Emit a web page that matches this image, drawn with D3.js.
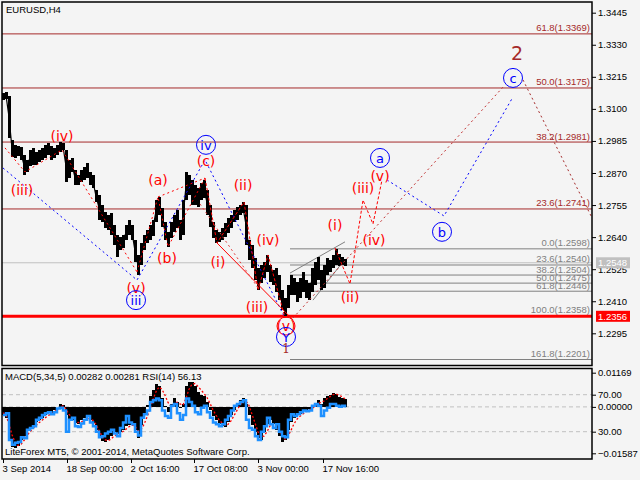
<!DOCTYPE html>
<html><head><meta charset="utf-8">
<script src="https://cdn.jsdelivr.net/npm/d3@7"></script>
<style>body{margin:0;background:#f4f4f4;overflow:hidden}</style>
</head><body><svg id="c" width="640" height="480"></svg>
<script>
// ---------- DATA ----------
const barStep = 3; // H4 bars per sampled slot
const priceHigh = [
1.3157,1.3161,1.3146,1.2988,1.2971,1.2967,1.2964,1.2935,1.2917,1.2953,
1.2960,1.2945,1.2953,1.2960,1.2971,1.2978,1.2967,1.2960,1.2971,1.2981,
1.2978,1.2953,1.2917,1.2924,1.2881,1.2863,1.2881,1.2892,1.2906,1.2874,
1.2863,1.2809,1.2791,1.2755,1.2730,1.2719,1.2727,1.2684,1.2648,1.2641,
1.2648,1.2684,1.2701,1.2684,1.2630,1.2576,1.2619,1.2648,1.2666,1.2684,
1.2701,1.2773,1.2784,1.2745,1.2694,1.2659,1.2694,1.2719,1.2737,1.2701,
1.2773,1.2874,1.2863,1.2845,1.2827,1.2816,1.2834,1.2845,1.2809,1.2755,
1.2694,1.2666,1.2659,1.2673,1.2691,1.2709,1.2719,1.2737,1.2748,1.2755,
1.2766,1.2755,1.2630,1.2612,1.2565,1.2529,1.2540,1.2551,1.2576,1.2540,
1.2522,1.2529,1.2504,1.2450,1.2422,1.2468,1.2504,1.2494,1.2479,1.2494,
1.2515,1.2486,1.2476,1.2529,1.2551,1.2569,1.2522,1.2540,1.2565,1.2558,
1.2576,1.2597,1.2580,1.2569,1.2562];
const priceLow = [
1.3132,1.3136,1.2996,1.2927,1.2924,1.2931,1.2917,1.2863,1.2874,1.2895,
1.2899,1.2899,1.2910,1.2917,1.2924,1.2935,1.2917,1.2924,1.2935,1.2945,
1.2953,1.2838,1.2852,1.2874,1.2827,1.2827,1.2838,1.2845,1.2852,1.2827,
1.2816,1.2766,1.2701,1.2694,1.2673,1.2666,1.2648,1.2612,1.2569,1.2594,
1.2601,1.2630,1.2648,1.2630,1.2551,1.2504,1.2540,1.2594,1.2619,1.2630,
1.2644,1.2694,1.2719,1.2676,1.2630,1.2605,1.2637,1.2659,1.2673,1.2630,
1.2648,1.2773,1.2791,1.2755,1.2755,1.2748,1.2773,1.2780,1.2719,1.2676,
1.2637,1.2619,1.2623,1.2630,1.2641,1.2655,1.2673,1.2694,1.2701,1.2719,
1.2727,1.2612,1.2558,1.2529,1.2486,1.2450,1.2476,1.2494,1.2515,1.2479,
1.2468,1.2443,1.2414,1.2379,1.2357,1.2386,1.2432,1.2432,1.2407,1.2422,
1.2443,1.2422,1.2414,1.2443,1.2468,1.2486,1.2450,1.2458,1.2504,1.2515,
1.2529,1.2540,1.2537,1.2540,1.2537];
const macdHist = [
-0.0028,-0.0038,-0.0113,-0.0138,-0.0141,-0.0134,-0.0113,-0.0100,-0.0079,-0.0072,
-0.0062,-0.0052,-0.0045,-0.0038,-0.0028,-0.0021,-0.0021,-0.0010,0.0000,0.0010,
0.0007,-0.0028,-0.0045,-0.0045,-0.0055,-0.0058,-0.0045,-0.0038,-0.0031,-0.0045,
-0.0055,-0.0079,-0.0107,-0.0117,-0.0120,-0.0113,-0.0100,-0.0086,-0.0093,-0.0086,
-0.0079,-0.0065,-0.0062,-0.0058,-0.0079,-0.0107,-0.0062,-0.0028,0.0007,0.0038,
0.0058,0.0079,0.0072,0.0031,0.0003,-0.0017,0.0010,0.0031,0.0017,-0.0003,
0.0010,0.0072,0.0086,0.0086,0.0072,0.0052,0.0041,0.0038,0.0017,-0.0010,
-0.0031,-0.0045,-0.0058,-0.0065,-0.0069,-0.0052,-0.0028,-0.0010,0.0007,0.0024,
0.0031,0.0010,-0.0028,-0.0062,-0.0086,-0.0107,-0.0113,-0.0086,-0.0058,-0.0045,
-0.0058,-0.0079,-0.0100,-0.0120,-0.0113,-0.0079,-0.0052,-0.0038,-0.0028,-0.0024,
-0.0014,-0.0010,-0.0007,0.0003,0.0014,0.0024,0.0010,0.0031,0.0038,0.0041,
0.0048,0.0045,0.0034,0.0031,0.0028];
const macdSignal = [
-0.0020,-0.0028,-0.0060,-0.0095,-0.0120,-0.0132,-0.0128,-0.0115,-0.0098,-0.0085,
-0.0074,-0.0064,-0.0054,-0.0046,-0.0038,-0.0030,-0.0025,-0.0018,-0.0010,-0.0002,
0.0004,-0.0008,-0.0025,-0.0038,-0.0048,-0.0054,-0.0052,-0.0046,-0.0040,-0.0040,
-0.0046,-0.0060,-0.0080,-0.0100,-0.0112,-0.0116,-0.0110,-0.0100,-0.0094,-0.0090,
-0.0084,-0.0076,-0.0068,-0.0062,-0.0066,-0.0082,-0.0078,-0.0060,-0.0035,-0.0008,
0.0025,0.0052,0.0068,0.0060,0.0040,0.0015,0.0002,0.0008,0.0016,0.0010,
0.0006,0.0030,0.0060,0.0078,0.0080,0.0070,0.0058,0.0046,0.0032,0.0012,
-0.0010,-0.0028,-0.0044,-0.0055,-0.0062,-0.0060,-0.0048,-0.0030,-0.0012,0.0006,
0.0020,0.0020,0.0005,-0.0025,-0.0055,-0.0085,-0.0102,-0.0100,-0.0085,-0.0065,
-0.0058,-0.0062,-0.0080,-0.0100,-0.0110,-0.0100,-0.0080,-0.0058,-0.0042,-0.0032,
-0.0024,-0.0016,-0.0012,-0.0006,0.0002,0.0012,0.0016,0.0020,0.0028,0.0035,
0.0042,0.0044,0.0040,0.0035,0.0028];
const rsi = [
48,50,21,16,18,19,24,23,32,34,
36,43,45,48,50,51,49,51,55,56,
53,30,43,45,36,35,39,43,47,40,
36,30,24,25,28,30,32,28,25,34,
40,47,40,38,30,26,45,49,53,62,
64,66,64,53,47,45,58,60,50,43,
48,66,62,58,51,49,56,58,51,45,
40,38,36,38,43,47,53,58,60,62,
64,43,34,32,25,21,30,36,45,38,
34,38,30,25,24,43,49,47,49,51,
53,52,53,58,60,58,47,53,56,60,
60,58,57,58,56.13];

const priceTicks = [1.3445,1.3330,1.3215,1.3100,1.2985,1.2870,1.2755,1.2640,1.2525,1.2410,1.2295];
const macdTicks = [0.01169,0,-0.01587];
const rsiTicks = [70,30];
const timeTickBars = [0,64,128,191,255,320];
const timeLabels = ["3 Sep 2014","18 Sep 00:00","2 Oct 16:00","17 Oct 08:00","3 Nov 00:00","17 Nov 16:00"];

const fibMajor = [["61.8",1.3369],["50.0",1.3175],["38.2",1.2981],["23.6",1.2741]];
const fibMinor = [["0.0",1.2598],["23.6",1.2540],["38.2",1.2504],["50.0",1.2475],["61.8",1.2446],["100.0",1.2358],["161.8",1.2201]];
const fibMinorStartBar = 287;
const lastPrice = 1.2548;
const supportPrice = 1.2356;

// wave paths: [bar, price]
const blueWave = [[0,1.2888],[134,1.2486],[202,1.2917],[282,1.2350]];
const blueFuture = [[384,1.2845],[441,1.2716],[510,1.3143]];
const redWave1 = [[2,1.2960],[22,1.2874],[59,1.2953],[134,1.2515]];
const redWave2 = [[134,1.2515],[155,1.2784],[165,1.2605],[202,1.2852]];
const redAC = [[155,1.2784],[202,1.2852]];
const redWave3 = [[202,1.2852],[214,1.2619],[241,1.2766],[255,1.2450],[265,1.2576],[282,1.2350]];
const redChannelSolid = [[214,1.2619],[290,1.2343]];
const redChannelDash = [[197,1.2759],[255,1.2458]];
const redFuture = [[332,1.2601],[347,1.2472],[360,1.2773],[370,1.2687],[379,1.2845]];
const longLine = [[290,1.2350],[502,1.3186]];
const downLine = [[520,1.3204],[589,1.2709]];
const channelUpper = [[287,1.2511],[342,1.2623]];
const channelLower = [[310,1.2414],[342,1.2561]];

const redLabels = [["(iii)",19,1.2809],["(iv)",59,1.3003],["(v)",133,1.2458],["(a)",155,1.2845],["(b)",164,1.2565],
  ["(c)",203,1.2913],["(i)",215,1.2551],["(ii)",240,1.2827],["(iii)",254,1.2389],["(iv)",265,1.2630],["(v)",283,1.2321],
  ["(i)",332,1.2684],["(ii)",347,1.2425],["(iii)",360,1.2816],["(iv)",371,1.2630],["(v)",377,1.2859]];
const blueLabels = [["iii",133,1.2414],["iv",203,1.2971],["Y",283,1.2282],["a",377,1.2924],["b",439,1.2659],["c",510,1.3211]];
const brownLabels = [["2",514,1.3301,19],["1",283,1.2237,12]];

// ---------- LAYOUT ----------
const L=2, R=592, T=2, B=365.5, MT=368.5, MB=459;
const FONT = "'Liberation Sans', Arial, sans-serif";
const svg = d3.select("#c");
svg.append("rect").attr("width",640).attr("height",480).attr("fill","#f4f4f4");

const x = d3.scaleLinear().domain([0,589]).range([3,592]);
const yP = d3.scaleLinear().domain([1.2295,1.3445]).range([333.3,12.7]);
const yM = d3.scaleLinear().domain([-0.01587,0.01169]).range([453.3,372.7]);
const yR = d3.scaleLinear().domain([30,70]).range([431.7,394.7]);

const defs = svg.append("defs");
defs.append("clipPath").attr("id","cm").append("rect").attr("x",L).attr("y",T).attr("width",R-L).attr("height",B-T);
defs.append("clipPath").attr("id","cd").append("rect").attr("x",L).attr("y",MT).attr("width",R-L).attr("height",MB-MT);

const main = svg.append("g").attr("clip-path","url(#cm)");
const line = d3.line().x(d=>x(d[0])).y(d=>yP(d[1]));

// fib major
fibMajor.forEach(([lv,p])=>{
  main.append("line").attr("x1",L).attr("x2",R).attr("y1",yP(p)).attr("y2",yP(p)).attr("stroke","#a52a2a").attr("stroke-width",1);
  main.append("text").attr("x",R-2).attr("y",yP(p)-2.5).attr("text-anchor","end").attr("font-family",FONT).attr("font-size",9.5)
    .attr("fill","#a52a2a").text(`${lv}(${p.toFixed(4)})`);
});
// current price line
main.append("line").attr("x1",L).attr("x2",R).attr("y1",yP(lastPrice)).attr("y2",yP(lastPrice)).attr("stroke","#c0c0c0").attr("stroke-width",1);
// fib minor
fibMinor.forEach(([lv,p])=>{
  main.append("line").attr("x1",x(fibMinorStartBar)).attr("x2",R).attr("y1",yP(p)).attr("y2",yP(p)).attr("stroke","#808080").attr("stroke-width",1);
  main.append("text").attr("x",R-2).attr("y",yP(p)-2.5).attr("text-anchor","end").attr("font-family",FONT).attr("font-size",9.5)
    .attr("fill","#808080").text(`${lv}(${p.toFixed(4)})`);
});
// support line
main.append("line").attr("x1",L).attr("x2",R).attr("y1",yP(supportPrice)).attr("y2",yP(supportPrice)).attr("stroke","#ff0000").attr("stroke-width",3);

// channel
[channelUpper,channelLower].forEach(c=>main.append("path").attr("d",line(c)).attr("fill","none").attr("stroke","#808080").attr("stroke-width",1));

// price bars
const slots = d3.range(priceHigh.length);
main.append("g").attr("shape-rendering","crispEdges").selectAll("rect").data(slots).join("rect")
  .attr("x",i=>x(i*barStep)-1).attr("width",3)
  .attr("y",i=>yP(priceHigh[i])).attr("height",i=>Math.max(1,yP(priceLow[i])-yP(priceHigh[i])))
  .attr("fill","#000");
main.append("path").attr("d",d3.line().x(i=>x(i*barStep)).y(i=>(yP(priceHigh[i])+yP(priceLow[i]))/2)(slots))
  .attr("fill","none").attr("stroke","#000").attr("stroke-width",1.2);

// waves
const drawPath=(pts,color,dash,w)=>main.append("path").attr("d",line(pts)).attr("fill","none").attr("stroke",color)
  .attr("stroke-width",w||1).attr("stroke-dasharray",dash||null);
drawPath(blueWave,"#0000ff","2,3");
drawPath(blueFuture,"#0000ff","2,3");
drawPath(redWave1,"#ff0000","2,3");
drawPath(redWave2,"#ff0000","2,3");
drawPath(redAC,"#ff0000","2,3");
drawPath(redWave3,"#ff0000","3,2");
drawPath(redChannelSolid,"#ff0000",null,1);
drawPath(redChannelDash,"#e04040","2,3");
drawPath(redFuture,"#ff0000","3,2");
drawPath(longLine,"#c03030","2,3");
drawPath(downLine,"#a52a2a","2,3");

// labels
redLabels.forEach(([t,b,p])=>{
  main.append("text").attr("x",x(b)).attr("y",yP(p)).attr("text-anchor","middle").attr("dominant-baseline","central")
    .attr("font-family","'DejaVu Sans',sans-serif").attr("font-size",14).attr("fill","#ff0000").text(t);
});
main.append("circle").attr("cx",x(283)).attr("cy",yP(1.2321)).attr("r",9).attr("fill","none").attr("stroke","#ff0000").attr("stroke-width",1);
blueLabels.forEach(([t,b,p])=>{
  main.append("circle").attr("cx",x(b)).attr("cy",yP(p)).attr("r",9.5).attr("fill","none").attr("stroke","#0000ff").attr("stroke-width",1);
  main.append("text").attr("x",x(b)).attr("y",yP(p)+0.5).attr("text-anchor","middle").attr("dominant-baseline","central")
    .attr("font-family","'DejaVu Sans',sans-serif").attr("font-size",13).attr("fill","#0000ff").text(t);
});
brownLabels.forEach(([t,b,p,s])=>{
  main.append("text").attr("x",x(b)).attr("y",yP(p)).attr("text-anchor","middle").attr("dominant-baseline","central")
    .attr("font-family",t==="1"?"'DejaVu Serif',serif":"'DejaVu Sans',sans-serif").attr("font-size",s).attr("fill","#a52a2a").text(t);
});

// title
svg.append("text").attr("x",6).attr("y",13).attr("font-family",FONT).attr("font-size",9.5).attr("fill","#000").text("EURUSD,H4");

// ---------- MACD PANEL ----------
const sub = svg.append("g").attr("clip-path","url(#cd)");
[70,30].forEach(v=>sub.append("line").attr("x1",L).attr("x2",R).attr("y1",yR(v)).attr("y2",yR(v)).attr("stroke","#c0c0c0").attr("stroke-dasharray","4,3"));
sub.append("line").attr("x1",L).attr("x2",R).attr("y1",yM(0)).attr("y2",yM(0)).attr("stroke","#c0c0c0").attr("stroke-dasharray","4,3");
sub.append("g").attr("shape-rendering","crispEdges").selectAll("rect").data(slots).join("rect")
  .attr("x",i=>x(i*barStep)-1).attr("width",3)
  .attr("y",i=>Math.min(yM(0),yM(macdHist[i]))).attr("height",i=>Math.abs(yM(macdHist[i])-yM(0)))
  .attr("fill","#000");
sub.append("path").attr("d",d3.line().x(i=>x(i*barStep)).y(i=>yM(macdSignal[i]))(slots))
  .attr("fill","none").attr("stroke","#ff0000").attr("stroke-width",1.3).attr("stroke-dasharray","2,2");
sub.append("path").attr("d",d3.line().curve(d3.curveStepAfter).x(i=>x(i*barStep)).y(i=>yR(rsi[i]))(slots))
  .attr("fill","none").attr("stroke","#1e90ff").attr("stroke-width",2.5);
svg.append("text").attr("x",5).attr("y",380).attr("font-family",FONT).attr("font-size",9.5).attr("fill","#000")
  .text("MACD(5,34,5) 0.00282 0.00281 RSI(14) 56.13");
svg.append("text").attr("x",5).attr("y",455).attr("font-family",FONT).attr("font-size",9.5).attr("fill","#000")
  .text("LiteForex MT5, © 2001-2014, MetaQuotes Software Corp.");

// frames
svg.append("rect").attr("x",L).attr("y",T).attr("width",R-L).attr("height",B-T).attr("fill","none").attr("stroke","#000").attr("stroke-width",1.5);
svg.append("rect").attr("x",L).attr("y",MT).attr("width",R-L).attr("height",MB-MT).attr("fill","none").attr("stroke","#000").attr("stroke-width",1.5);

// ---------- AXES ----------
function styleAxis(g){
  g.select(".domain").remove();
  g.selectAll("text").attr("font-family",FONT).attr("font-size",9.5).attr("fill","#000");
  g.selectAll("line").attr("stroke","#000");
}
svg.append("g").attr("transform",`translate(${R},0)`)
  .call(d3.axisRight(yP).tickValues(priceTicks).tickSize(4).tickPadding(2).tickFormat(d3.format(".4f"))).call(styleAxis);
svg.append("g").attr("transform",`translate(${R},0)`)
  .call(d3.axisRight(yM).tickValues(macdTicks).tickSize(4).tickPadding(2).tickFormat(d3.format(".5f"))).call(styleAxis);
svg.append("g").attr("transform",`translate(${R},0)`)
  .call(d3.axisRight(yR).tickValues(rsiTicks).tickSize(4).tickPadding(2).tickFormat(d3.format(".2f"))).call(styleAxis);
const tx = svg.append("g").attr("transform",`translate(0,${MB})`)
  .call(d3.axisBottom(x).tickValues(timeTickBars).tickSize(4).tickFormat((d,i)=>timeLabels[i])).call(styleAxis);
tx.selectAll("text").attr("text-anchor","start").attr("y",13).attr("dy",0).attr("x",-1);

// price boxes
[[lastPrice,"#c0c0c0","#ffffff"],[supportPrice,"#ff0000","#ffffff"]].forEach(([p,bg,fg])=>{
  svg.append("rect").attr("x",596).attr("y",yP(p)-5.5).attr("width",34).attr("height",11).attr("fill",bg);
  svg.append("text").attr("x",598).attr("y",yP(p)).attr("dominant-baseline","central").attr("font-family",FONT)
    .attr("font-size",9.5).attr("fill",fg).text(p.toFixed(4));
});
</script></body></html>
